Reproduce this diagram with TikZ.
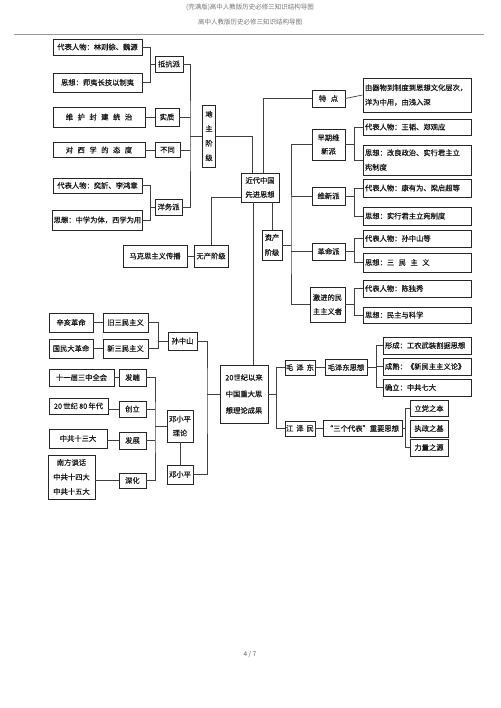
\documentclass[tikz,border=0pt]{standalone}
\usepackage{fontspec}
\setmainfont{Noto Sans CJK SC}
\newfontfamily\boxcjk{Noto Sans CJK SC}[FakeBold=0.6]
\usepackage{tikz}
\usepackage{xcolor}

\newcommand{\boxfont}{\boxcjk\fontsize{7.3}{14.5}\selectfont}
\newcommand{\zgap}{\hspace{4.5pt}}

\begin{document}
\begin{tikzpicture}[x=1pt, y=-1pt,
    box/.style={draw=black!85, line width=0.7pt, inner sep=1pt, align=center, font=\boxfont, text=black!90},
    rbox/.style={box, text width=104pt, align=left, inner xsep=2pt},
    dim/.style 2 args={minimum width=#1pt, minimum height=#2pt},
    link/.style={draw=black!75, line width=0.7pt}]
    \useasboundingbox (0,0) rectangle (500,708);
    % header
    \node[font=\fontsize{6.5}{8}\selectfont, text=black!55] (title) at (250,7) {(完满版)高中人教版历史必修三知识结构导图};
    \node[font=\fontsize{6.5}{8}\selectfont, text=black!55] (subtitle) at (250,22) {高中人教版历史必修三知识结构导图};
    \draw[black!40, line width=0.8pt] (14,34) -- (484,34);
    \node[font=\fontsize{6.5}{8}\selectfont, text=black!65] (page) at (250,654) {4 / 7};
    %
    % 地主阶级
    \node[box, dim={89}{16}] (p1) at (97.5,47) {代表人物：林则徐、魏源};
    \node[box, dim={89}{19}] (s1) at (97.5,82.5) {思想：师夷长技以制夷};
    \node[box, dim={28}{16}] (dk) at (169,64) {抵抗派};
    \node[box, dim={92}{20}] (wh) at (99,117) {维\zgap 护\zgap 封\zgap 建\zgap 统\zgap 治};
    \node[box, dim={24}{18}] (sz) at (167,117) {实质};
    \node[box, dim={92}{15}] (dx) at (99,150) {对\zgap 西\zgap 学\zgap 的\zgap 态\zgap 度};
    \node[box, dim={25}{15}] (bt) at (167.5,150) {不同};
    \node[box, dim={89}{15}] (p2) at (97.5,185.5) {代表人物：奕訢、李鸿章};
    \node[box, dim={89}{20}] (s2) at (97.5,220) {思想：中学为体，西学为用};
    \node[box, dim={27}{16}] (yw) at (168.5,207) {洋务派};
    \node[box, dim={13}{62}, inner sep=0pt] (dz) at (209,136) {地\\主\\阶\\级};
    %
    \draw[link] (p1.east) -- ++(8,0) |- (dk.west);
    \draw[link] (s1.east) -- ++(8,0) |- (dk.west);
    \draw[link] (p2.east) -- ++(8,0) |- (yw.west);
    \draw[link] (s2.east) -- ++(8,0) |- (yw.west);
    \draw[link] (wh.east) -- (sz.west);
    \draw[link] (dx.east) -- (bt.west);
    \coordinate (dzbus) at (190,136);
    \draw[link] (dk.east) -| (dzbus) |- (yw.east);
    \draw[link] (sz.east) -- (sz.east -| dzbus);
    \draw[link] (bt.east) -- (bt.east -| dzbus);
    \draw[link] (dzbus) -- (dz.west);
    %
    % 近代中国先进思想
    \node[box, dim={38}{29}, font=\boxcjk\fontsize{7.3}{14}\selectfont] (jd) at (260,187.5) {近代中国\\先进思想};
    \node[box, dim={64}{22}] (mk) at (155,256) {马克思主义传播};
    \node[box, dim={34}{22}] (wc) at (211,256) {无产阶级};
    \node[box, dim={20}{30}, font=\boxcjk\fontsize{7.3}{15}\selectfont] (zc) at (272,245) {资产\\阶级};
    \node[box, dim={33}{17}] (td) at (328.5,98.5) {特\zgap 点};
    \node[rbox, minimum height=34pt] (tdx) at (417,95) {由器物到制度到思想文化层次，\\洋为中用，由浅入深};
    %
    \draw[link] (mk.east) -- (wc.west);
    \draw[link] (wc.north) |- ([yshift=-9.5pt]jd.west);
    \draw[link] (dz.east) -| ([xshift=-8pt]jd.north);
    \draw[link] ([xshift=3pt]jd.north) |- (td.west);
    \draw[link] (td.east) -- (tdx.west);
    \draw[link] ([xshift=12pt]jd.south) -- (zc.north);
    %
    % 资产阶级
    \node[box, dim={33}{31}, font=\boxcjk\fontsize{7.3}{13.5}\selectfont] (zq) at (328.5,144.5) {早期维\\新派};
    \node[box, dim={33}{18}] (wx) at (328.5,196) {维新派};
    \node[box, dim={33}{17}] (gm) at (328.5,251.5) {革命派};
    \node[box, dim={35}{35}, font=\boxcjk\fontsize{7.3}{14}\selectfont] (jj) at (327.5,304.5) {激进的民\\主主义者};
    \node[rbox, minimum height=16pt] (zq1) at (417,127) {代表人物：王韬、郑观应};
    \node[rbox, minimum height=30pt] (zq2) at (417,160) {思想：改良政治、实行君主立\\宪制度};
    \node[rbox, minimum height=18pt] (wx1) at (417,188) {代表人物：康有为、梁启超等};
    \node[rbox, minimum height=18pt] (wx2) at (417,216) {思想：实行君主立宪制度};
    \node[rbox, minimum height=17pt] (gm1) at (417,238.5) {代表人物：孙中山等};
    \node[rbox, minimum height=19pt] (gm2) at (417,262.5) {思想：三\zgap 民\zgap 主\zgap 义};
    \node[rbox, minimum height=17pt] (jj1) at (417,288.5) {代表人物：陈独秀};
    \node[rbox, minimum height=16pt] (jj2) at (417,315) {思想：民主与科学};
    %
    \coordinate (zcbus) at (291,245);
    \draw[link] (zc.east) -- (zcbus);
    \draw[link] (zq.west) -| (zcbus) |- (jj.west);
    \draw[link] (wx.west) -- (wx.west -| zcbus);
    \draw[link] (gm.west) -- (gm.west -| zcbus);
    \draw[link] (zq.east) -- ++(10,0);
    \draw[link] (zq1.west) -- ++(-8,0) |- (zq2.west);
    \draw[link] (wx.east) -- ++(10,0);
    \draw[link] (wx1.west) -- ++(-8,0) |- (wx2.west);
    \draw[link] (gm.east) -- ++(10,0);
    \draw[link] (gm1.west) -- ++(-8,0) |- (gm2.west);
    \draw[link] (jj.east) -- ++(10,0);
    \draw[link] (jj1.west) -- ++(-8,0) |- (jj2.west);
    %
    % 20世纪以来中国重大思想理论成果
    \node[box, dim={48}{58}, font=\boxcjk\fontsize{7.3}{16.5}\selectfont] (cg) at (244,394) {20世纪以来\\中国重大思\\想理论成果};
    \draw[link] ([xshift=-7pt]jd.south) -- ([xshift=9pt]cg.north);
    \node[box, dim={44}{19}] (xh) at (71,322.5) {辛亥革命};
    \node[box, dim={45}{19}] (jsm) at (125.5,322.5) {旧三民主义};
    \node[box, dim={44}{19}] (gd) at (71,348.5) {国民大革命};
    \node[box, dim={45}{19}] (xsm) at (125.5,348.5) {新三民主义};
    \node[box, dim={29}{18}] (sz2) at (182.5,341) {孙中山};
    %
    \draw[link] (xh.east) -- (jsm.west);
    \draw[link] (gd.east) -- (xsm.west);
    \draw[link] (jsm.east) -- ++(10,0) |- (sz2.west);
    \draw[link] (xsm.east) -- ++(10,0) |- (sz2.west);
    %
    \node[box, dim={65}{17}] (sz3) at (81.5,377.5) {十一届三中全会};
    \node[box, dim={27}{17}] (fd) at (132.5,377.5) {发端};
    \node[box, dim={59}{16}] (nd) at (78.5,406) {20\,世纪\,80\,年代};
    \node[box, dim={27}{16}] (cl) at (132.5,409) {创立};
    \node[box, dim={58}{19}] (ssd) at (78,438.5) {中共十三大};
    \node[box, dim={27}{17}] (fz) at (132.5,440.5) {发展};
    \node[box, dim={47}{44}] (nf) at (71.5,477) {南方谈话\\中共十四大\\中共十五大};
    \node[box, dim={27}{15}] (sh) at (132.5,480.5) {深化};
    \node[box, dim={26}{32}, font=\boxcjk\fontsize{7.3}{14}\selectfont] (dll) at (180,426) {邓小平\\理论};
    \node[box, dim={26}{19}] (dxp) at (180,474.5) {邓小平};
    %
    \draw[link] (sz3.east) -- (fd.west);
    \draw[link] (nd.east |- cl.west) -- (cl.west);
    \draw[link] (ssd.east |- fz.west) -- (fz.west);
    \draw[link] (sh.west) -- (sh.west -| nf.east);
    \coordinate (dlbus) at (155,426);
    \draw[link] (fd.east) -| (dlbus) |- (sh.east);
    \draw[link] (cl.east) -- (cl.east -| dlbus);
    \draw[link] (fz.east) -- (fz.east -| dlbus);
    \draw[link] (dlbus) -- (dll.west);
    \draw[link] (dll.south) -- (dxp.north);
    \coordinate (cgbus) at (207,394);
    \draw[link] (sz2.east) -| (cgbus) |- (dxp.east);
    \draw[link] (cgbus) -- (cg.west);
    %
    \node[box, dim={30}{15}] (mzd) at (300,367.5) {毛\hspace{3pt}泽\hspace{3pt}东};
    \node[box, dim={30}{15}] (jzm) at (300,428.5) {江\hspace{3pt}泽\hspace{3pt}民};
    \node[box, dim={42}{16}] (mzs) at (346,367.5) {毛泽东思想};
    \node[box, dim={79}{16}] (sgdb) at (362.5,428.5) {“三个代表”重要思想};
    \node[box, text width=84pt, align=left, inner xsep=2pt, minimum height=17pt] (mz1) at (427,345.5) {形成：工农武装割据思想};
    \node[box, text width=84pt, align=left, inner xsep=2pt, minimum height=17pt] (mz2) at (427,366.5) {成熟：《新民主主义论》};
    \node[box, text width=84pt, align=left, inner xsep=2pt, minimum height=17pt] (mz3) at (427,387.5) {确立：中共七大};
    \node[box, dim={38}{16}] (sg1) at (429,408.5) {立党之本};
    \node[box, dim={38}{17}] (sg2) at (429,428.5) {执政之基};
    \node[box, dim={38}{17}] (sg3) at (429,447.5) {力量之源};
    %
    \draw[link] (cg.east) -- ++(9,0);
    \draw[link] (mzd.west) -- ++(-8,0) |- (jzm.west);
    \draw[link] (mzd.east) -- (mzs.west);
    \draw[link] (jzm.east) -- (sgdb.west);
    \draw[link] (mzs.east) -- ++(10,0);
    \draw[link] (mz1.west) -- ++(-6,0) |- (mz3.west);
    \draw[link] (mz2.west) -- ++(-6,0);
    \draw[link] (sgdb.east) -- ++(4,0);
    \draw[link] (sg1.west) -- ++(-4,0) |- (sg3.west);
\end{tikzpicture}
\end{document}
